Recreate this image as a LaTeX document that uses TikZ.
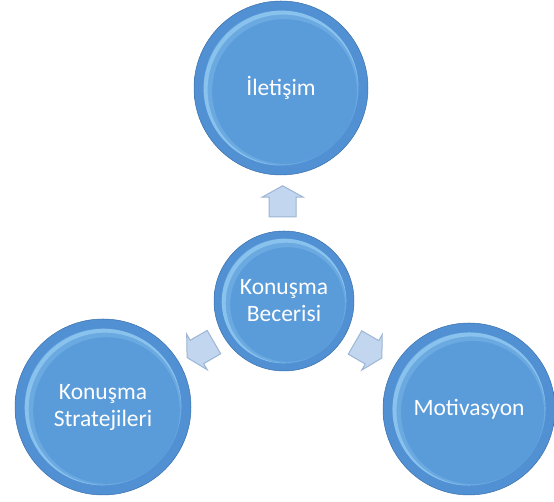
\documentclass[tikz,border=0pt]{standalone}
\usepackage{fontspec}
\setmainfont{Carlito}
\usetikzlibrary{positioning,calc,shapes.arrows}

\definecolor{faceblue}{HTML}{5A9BDA}
\definecolor{rimblue}{HTML}{5190D2}
\definecolor{rimdark}{HTML}{3B70AC}
\definecolor{glowblue}{HTML}{A8DCFA}
\definecolor{arrowfill}{HTML}{C2D7EF}
\definecolor{arrowedge}{HTML}{9DB5D4}

\pgfdeclareradialshading{ballrim}{\pgfpoint{0bp}{0bp}}{color(0bp)=(rimblue); color(46bp)=(rimblue); color(49.5bp)=(rimdark); color(50bp)=(rimdark)}

\begin{document}
\begin{tikzpicture}[
  x=1pt, y=1pt,
  font=\fontsize{23.5pt}{27pt}\selectfont,
  ball/.style={
    circle,
    minimum size=#1,
    inner sep=0pt,
    shade, shading=ballrim,
    draw=rimdark, line width=0.5pt,
    text=white,
    align=center,
    path picture={
      \fill[faceblue] (path picture bounding box.center) circle[radius=0.445*#1];
      \begin{scope}
        \clip (path picture bounding box.center) circle[radius=0.445*#1];
        \draw[glowblue, line width=10pt, opacity=0.22]
          ([shift={(3.5pt,-3.5pt)}]path picture bounding box.center) circle[radius=0.445*#1];
        \draw[glowblue, line width=4pt, opacity=0.5]
          ([shift={(2pt,-2pt)}]path picture bounding box.center) circle[radius=0.445*#1];
      \end{scope}
    },
  },
  blockarrow/.style={
    single arrow,
    minimum height=31pt,
    minimum width=40pt,
    inner xsep=0pt,
    inner ysep=13pt,
    single arrow head extend=7pt,
    single arrow tip angle=122,
    fill=arrowfill,
    draw=arrowedge,
    line width=1pt,
  },
]

  \useasboundingbox (0,0) rectangle (554,502);

  % --- Centre and the three outer circles ---
  \node[ball=140pt] (core) at (284,201) {Konuşma\\Becerisi};
  \node[ball=174pt] (talk) at (281,414) {İletişim};
  \node[ball=176pt] (strat) at (103,95) {Konuşma\\Stratejileri};
  \node[ball=172pt] (motiv) at (469,93) {Motivasyon};

  % --- Block arrows pointing outwards ---
  \node[blockarrow, rotate=90] (toTalk) at ($(core)!96pt!(talk)$) {};
  \node[blockarrow, rotate=210] (toStrat) at ($(core)!93pt!(strat)$) {};
  \node[blockarrow, rotate=-30] (toMotiv) at ($(core)!94pt!(motiv)$) {};

\end{tikzpicture}
\end{document}
